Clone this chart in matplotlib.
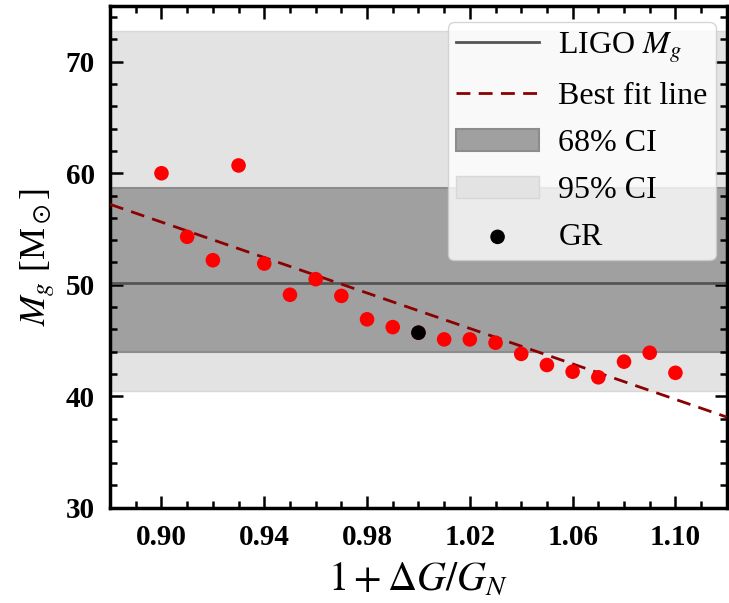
import numpy as np
import matplotlib
matplotlib.use('Agg')
import matplotlib.pyplot as plt
from matplotlib.ticker import MultipleLocator

plt.rcParams['font.family'] = ['Liberation Serif', 'DejaVu Serif']
plt.rcParams['mathtext.fontset'] = 'stix'

# data
dG = [0.90, 0.91, 0.92, 0.93, 0.94, 0.95, 0.96, 0.97, 0.98, 0.99, 1.00,
      1.01, 1.02, 1.03, 1.04, 1.05, 1.06, 1.07, 1.08, 1.09, 1.10]
Mg = [60.0, 54.3, 52.2, 60.7, 51.9, 49.1, 50.5, 49.0, 46.9, 46.2, 45.7,
      45.1, 45.1, 44.8, 43.8, 42.8, 42.2, 41.7, 43.1, 43.9, 42.1]
gr_x = [1.00]
gr_y = [45.7]
ligo_Mg = 50.2
ci68 = [44.0, 58.7]
ci95 = [40.5, 72.8]

fig = plt.figure(figsize=(7.29, 6.03), dpi=100)
ax = fig.add_axes([0.151, 0.158, 0.846, 0.832])

ax.axhspan(ci95[0], ci95[1], facecolor='#e3e3e3', edgecolor='#d8d8d8', lw=1, zorder=0, label='95% CI')
ax.axhspan(ci68[0], ci68[1], facecolor='#a0a0a0', edgecolor='#8c8c8c', lw=1.5, zorder=1, label='68% CI')
ax.axhline(ligo_Mg, color='#555555', lw=2, zorder=2, label='LIGO $M_g$')

coef = np.polyfit(dG, Mg, 1)
xf = np.array([0.88, 1.12])
ax.plot(xf, np.polyval(coef, xf), ls='--', color='#8b0000', lw=2, dashes=(5, 3), zorder=3, label='Best fit line')

ax.scatter(dG, Mg, s=110, color='red', edgecolors='none', zorder=4)
ax.scatter(gr_x, gr_y, s=110, color='black', edgecolors='none', zorder=5, label='GR')

ax.set_xlim(0.88, 1.12)
ax.set_ylim(30, 75)
ax.xaxis.set_minor_locator(MultipleLocator(0.01))
ax.set_xticks([0.90, 0.94, 0.98, 1.02, 1.06, 1.10])
ax.set_xticklabels(['0.90', '0.94', '0.98', '1.02', '1.06', '1.10'])
ax.yaxis.set_major_locator(MultipleLocator(10))
ax.yaxis.set_minor_locator(MultipleLocator(2))
ax.tick_params(which='both', direction='in', top=True, right=True, labelsize=21, width=1.8)
ax.tick_params(which='major', length=9)
ax.tick_params(which='minor', length=5)
ax.tick_params(axis='x', which='major', pad=12)
ax.tick_params(axis='y', which='major', pad=11)
for lab in ax.get_xticklabels() + ax.get_yticklabels():
    lab.set_fontweight('bold')
for s in ax.spines.values():
    s.set_linewidth(2.5)

ax.set_xlabel(r'$1 + \Delta G/G_N$', fontsize=29, labelpad=7)
ax.set_ylabel(r'$M_g$ [M$_\odot$]', fontsize=26, labelpad=6)

h, l = ax.get_legend_handles_labels()
order = [l.index(k) for k in ['LIGO $M_g$', 'Best fit line', '68% CI', '95% CI', 'GR']]
ax.legend([h[i] for i in order], [l[i] for i in order], loc='upper right',
          bbox_to_anchor=(1.0, 0.99), fontsize=23,
          framealpha=0.8, handlelength=2.6, handletextpad=0.6, borderaxespad=0.35,
          borderpad=0.25, labelspacing=0.55)

fig.savefig('out.png', dpi=100)
